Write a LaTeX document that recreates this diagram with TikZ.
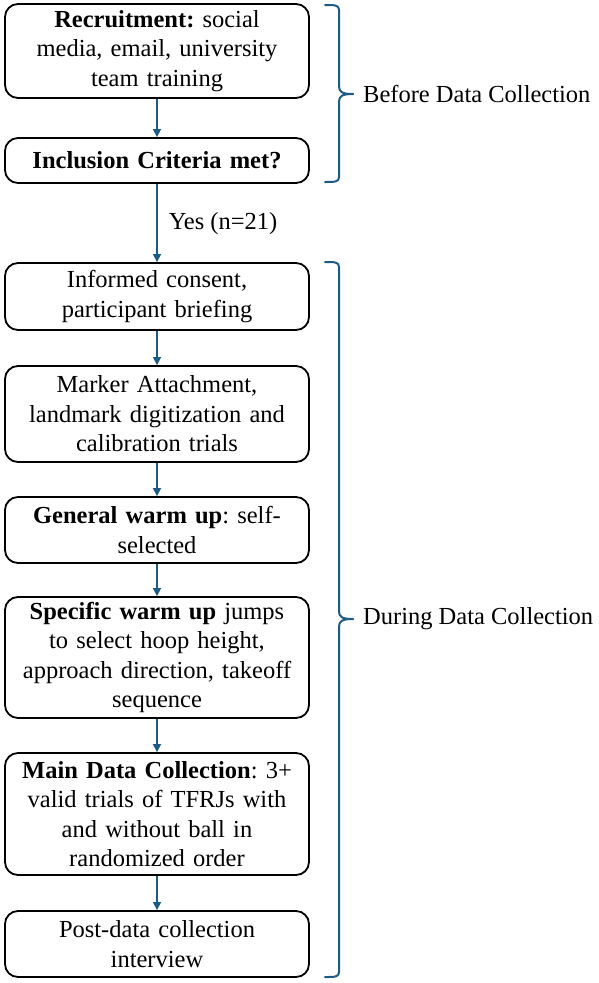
\documentclass[tikz,border=0pt]{standalone}
\usepackage{fontspec}
\setmainfont{Liberation Serif}
\usetikzlibrary{arrows.meta}
\definecolor{flowblue}{RGB}{28,92,132}
\tikzset{
  box/.style={draw=black, line width=1.8pt, rounded corners=13pt, fill=white,
    text width=294pt, inner xsep=5pt, inner ysep=0pt, align=center,
    font=\fontsize{24.5}{29.5}\selectfont\frenchspacing},
  flow/.style={draw=flowblue, line width=1.5pt, -{Triangle[length=8pt,width=8pt]}},
  bracepath/.style={draw=flowblue, line width=2pt, line cap=round, line join=round},
  sidetext/.style={anchor=west, inner sep=0pt, font=\fontsize{24.5}{29}\selectfont\frenchspacing},
}
\begin{document}
\begin{tikzpicture}[x=1pt,y=-1pt]
\useasboundingbox (0,0) rectangle (598,983);
\node[box, minimum height=94pt] (b1) at (157,51) {\textbf{Recruitment:} social\\ media, email, university\\ team training};
\node[box, minimum height=45pt] (b2) at (157,160.5) {\textbf{Inclusion Criteria met?}};
\node[box, minimum height=67pt] (b3) at (157,296.5) {Informed consent,\\ participant briefing};
\node[box, minimum height=96pt] (b4) at (157,414) {Marker Attachment,\\ landmark digitization and\\ calibration trials};
\node[box, minimum height=66pt] (b5) at (157,530) {\textbf{General warm up}: self-\\ selected};
\node[box, minimum height=121pt] (b6) at (157,657.5) {\textbf{Specific warm up} jumps\\ to select hoop height,\\ approach direction, takeoff\\ sequence};
\node[box, minimum height=122pt] (b7) at (157,814) {\textbf{Main Data Collection}: 3+\\ valid trials of TFRJs with\\ and without ball in\\ randomized order};
\node[box, minimum height=66pt] (b8) at (157,944) {Post-data collection\\ interview};

\draw[flow] (b1.south) -- (b2.north);
\draw[flow] (b2.south) -- node[sidetext, xshift=11pt, yshift=-1pt] (yes) {Yes (n=21)} (b3.north);
\draw[flow] (b3.south) -- (b4.north);
\draw[flow] (b4.south) -- (b5.north);
\draw[flow] (b5.south) -- (b6.north);
\draw[flow] (b6.south) -- (b7.north);
\draw[flow] (b7.south) -- (b8.north);

% brace 1
\coordinate (t1) at (353,94);
\draw[bracepath] (325,5) .. controls (335,5) and (339,5) .. (339,10) -- (339,86)
  .. controls (339,92) and (342,94) .. (t1);
\draw[bracepath] (325,182) .. controls (335,182) and (339,182) .. (339,177) -- (339,102)
  .. controls (339,96) and (342,94) .. (t1);
\node[sidetext] (l1) at (363,94) {Before Data Collection};

% brace 2
\coordinate (t2) at (353,619);
\draw[bracepath] (325,262) .. controls (335,262) and (339,262) .. (339,267) -- (339,611)
  .. controls (339,617) and (342,619) .. (t2);
\draw[bracepath] (325,977) .. controls (335,977) and (339,977) .. (339,972) -- (339,627)
  .. controls (339,621) and (342,619) .. (t2);
\node[sidetext] (l2) at (363,619) {During Data Collection};
\end{tikzpicture}
\end{document}
